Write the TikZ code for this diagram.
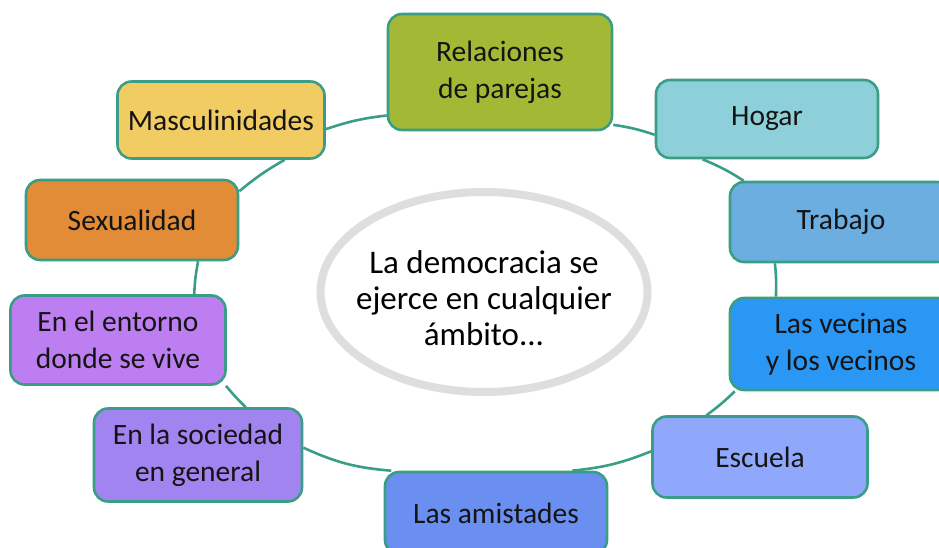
\documentclass[tikz,border=0pt]{standalone}
\usepackage{fontspec}
\setmainfont{Carlito}
\usetikzlibrary{backgrounds,shapes.geometric}
\definecolor{edge}{HTML}{3A9E87}
\definecolor{ring}{HTML}{DDDEE0}
\definecolor{cRel}{HTML}{A3B935}
\definecolor{cHog}{HTML}{8DD0D9}
\definecolor{cTra}{HTML}{6CAEE0}
\definecolor{cVec}{HTML}{2B97F5}
\definecolor{cEsc}{HTML}{8FA8FC}
\definecolor{cAmi}{HTML}{6A8FF0}
\definecolor{cSoc}{HTML}{A184F0}
\definecolor{cEnt}{HTML}{BC7EF0}
\definecolor{cSex}{HTML}{E28C38}
\definecolor{cMas}{HTML}{F0CC62}
\tikzset{
  box/.style={draw=edge, line width=2.6pt, rounded corners=14pt, align=center,
    inner sep=0pt, text=black!92, font=\fontsize{29.5}{37}\selectfont},
  link/.style={draw=edge, line width=2.6pt},
  centre/.style={ellipse, draw=ring, line width=8pt, fill=white, inner sep=0pt},
  centretext/.style={align=center, inner sep=0pt, text=black,
    font=\fontsize{33}{36}\selectfont}
}
\begin{document}
\begin{tikzpicture}[x=1pt,y=-1pt]
\useasboundingbox (0,0) rectangle (939,548);
\clip (0,0) rectangle (939,548);
\node[box, fill=cRel, minimum width=224pt, minimum height=116pt] (rel) at (500,72) {Relaciones\\de parejas};
\node[box, fill=cHog, minimum width=222pt, minimum height=78pt] (hog) at (767,119) {Hogar};
\node[box, fill=cTra, minimum width=222pt, minimum height=80pt] (tra) at (841,222) {Trabajo};
\node[box, fill=cVec, minimum width=222pt, minimum height=92pt] (vec) at (841,344) {Las vecinas\\y los vecinos};
\node[box, fill=cEsc, minimum width=215pt, minimum height=81pt] (esc) at (760,457) {Escuela};
\node[box, fill=cAmi, minimum width=222pt, minimum height=82pt] (ami) at (496,513) {Las amistades};
\node[box, fill=cSoc, minimum width=208pt, minimum height=93pt] (soc) at (198,455) {En la sociedad\\en general};
\node[box, fill=cEnt, minimum width=215pt, minimum height=89pt] (ent) at (118,340) {En el entorno\\donde se vive};
\node[box, fill=cSex, minimum width=212pt, minimum height=80pt] (sex) at (132,220) {Sexualidad};
\node[box, fill=cMas, minimum width=207pt, minimum height=77pt] (mas) at (221,120) {Masculinidades};
\node[centre, minimum width=327pt, minimum height=200pt] (cen) at (484,292) {};
\node[centretext] (centxt) at (484,298) {La democracia se\\ejerce en cualquier\\ámbito...};
\begin{scope}[on background layer]
\draw[link] (rel.-25) to[bend left=5] (hog.188);
\draw[link] (hog.212) to[bend left=5] (tra.157);
\draw[link] (tra.212) to[bend left=4] (vec.144);
\draw[link] (vec.204.5) to[bend left=4] (esc.142);
\draw[link] (esc.177) to[bend left=8] (ami.29);
\draw[link] (ami.158) to[bend left=10] (soc.4);
\draw[link] (soc.45.6) to[bend left=3] (ent.-23.4);
\draw[link] (ent.31) to[bend left=4] (sex.-32.4);
\draw[link] (sex.15.8) to[bend left=5] (mas.-32.8);
\draw[link] (mas.-5.5) to[bend left=6] (rel.201);
\end{scope}
\end{tikzpicture}
\end{document}
